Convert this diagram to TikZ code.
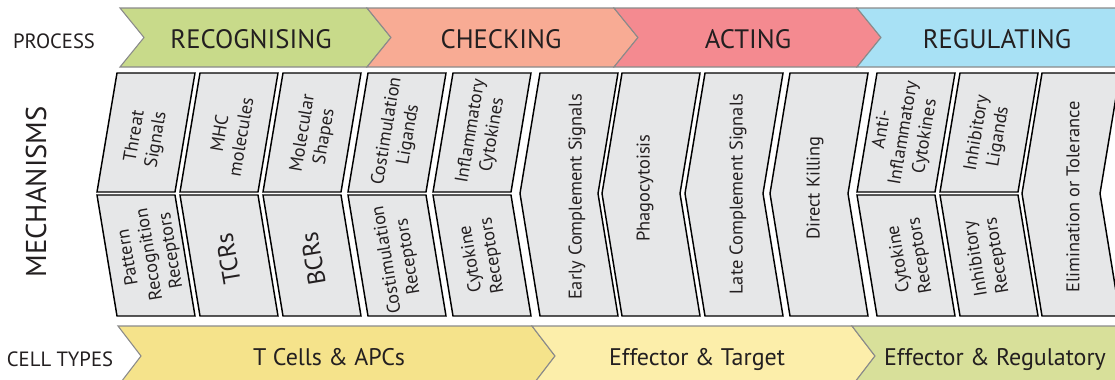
\documentclass[tikz,border=0pt]{standalone}
\usepackage{fontspec}
\setmainfont{PT Sans}

\definecolor{recoggreen}{HTML}{C8DA8A}
\definecolor{checksalmon}{HTML}{F8AB94}
\definecolor{actred}{HTML}{F48A90}
\definecolor{regulblue}{HTML}{A8E1F5}
\definecolor{tcellyellow}{HTML}{F5E38B}
\definecolor{effyellow}{HTML}{FCEEAA}
\definecolor{effgreen}{HTML}{D8E09A}
\definecolor{mechgray}{HTML}{E6E7E8}
\definecolor{edgegray}{HTML}{8A8A8A}
\definecolor{inkgray}{HTML}{231F20}

\tikzset{every picture/.style={line width=0.75pt}}
\tikzset{
	bandbox/.style={draw=edgegray, line width=0.8},
	mechbox/.style={draw=black, fill=mechgray, line width=1.1},
	rowlabel/.style={text=inkgray, anchor=base, font=\fontsize{15.5}{18}\selectfont},
	proclabel/.style={text=inkgray, anchor=base, font=\fontsize{20}{24}\selectfont},
	celllabel/.style={text=inkgray, anchor=base, font=\fontsize{18}{22}\selectfont},
	mechtext/.style={text=inkgray, align=center, inner sep=1pt, font=\fontsize{13.8}{16.3}\selectfont},
	mechbig/.style={text=inkgray, align=center, font=\fontsize{18.5}{22}\selectfont},
	uptext/.style={mechtext, rotate=80.5},
	lowtext/.style={mechtext, rotate=99.5},
	fulltext/.style={mechtext, rotate=90}
}

\begin{document}
\begin{tikzpicture}[x=0.75pt,y=0.75pt,yscale=-1,xscale=1]
	\clip (0,0) rectangle (1115,379); %diagram is 1115 x 379

	%Shape: Chevron [process: recognising]
	\draw [bandbox, fill=recoggreen] (120,8) -- (367,8) -- (391,37.5) -- (367,67) -- (120,67) -- (144,37.5) -- cycle ;
	%Shape: Chevron [process: checking]
	\draw [bandbox, fill=checksalmon] (367,8) -- (614,8) -- (638,37.5) -- (614,67) -- (367,67) -- (391,37.5) -- cycle ;
	%Shape: Chevron [process: acting]
	\draw [bandbox, fill=actred] (614,8) -- (857,8) -- (881,37.5) -- (857,67) -- (614,67) -- (638,37.5) -- cycle ;
	%Shape: Chevron [process: regulating]
	\draw [bandbox, fill=regulblue] (857,8) -- (1125,8) -- (1125,67) -- (857,67) -- (881,37.5) -- cycle ;

	%Shape: Chevron [cells: T cells]
	\draw [bandbox, fill=tcellyellow] (118,326) -- (532,326) -- (555,356) -- (532,386) -- (118,386) -- (141,356) -- cycle ;
	%Shape: Chevron [cells: effector and target]
	\draw [bandbox, fill=effyellow] (532,326) -- (852,326) -- (875,356) -- (852,386) -- (532,386) -- (555,356) -- cycle ;
	%Shape: Chevron [cells: effector and regulatory]
	\draw [bandbox, fill=effgreen] (852,326) -- (1125,326) -- (1125,386) -- (852,386) -- (875,356) -- cycle ;

	%Shape: Polygon [mechanism upper 1]
	\draw [mechbox] (117,73) -- (195,73) -- (175,192) -- (97,192) -- cycle ;
	%Shape: Polygon [mechanism lower 1]
	\draw [mechbox] (97,195) -- (175,195) -- (195,316) -- (117,316) -- cycle ;
	%Shape: Polygon [mechanism upper 2]
	\draw [mechbox] (200,73) -- (278,73) -- (258,192) -- (180,192) -- cycle ;
	%Shape: Polygon [mechanism lower 2]
	\draw [mechbox] (180,195) -- (258,195) -- (278,316) -- (200,316) -- cycle ;
	%Shape: Polygon [mechanism upper 3]
	\draw [mechbox] (283,73) -- (361,73) -- (341,192) -- (263,192) -- cycle ;
	%Shape: Polygon [mechanism lower 3]
	\draw [mechbox] (263,195) -- (341,195) -- (361,316) -- (283,316) -- cycle ;
	%Shape: Polygon [mechanism upper 4]
	\draw [mechbox] (368,73) -- (446,73) -- (426,192) -- (348,192) -- cycle ;
	%Shape: Polygon [mechanism lower 4]
	\draw [mechbox] (348,195) -- (426,195) -- (446,316) -- (368,316) -- cycle ;
	%Shape: Polygon [mechanism upper 5]
	\draw [mechbox] (453,73) -- (531,73) -- (511,192) -- (433,192) -- cycle ;
	%Shape: Polygon [mechanism lower 5]
	\draw [mechbox] (433,195) -- (511,195) -- (531,316) -- (453,316) -- cycle ;
	%Shape: Chevron [mechanism full 6]
	\draw [mechbox] (540,73) -- (618,73) -- (598,193.5) -- (618,316) -- (540,316) -- (520,193.5) -- cycle ;
	%Shape: Chevron [mechanism full 7]
	\draw [mechbox] (622,73) -- (700,73) -- (680,193.5) -- (700,316) -- (622,316) -- (602,193.5) -- cycle ;
	%Shape: Chevron [mechanism full 8]
	\draw [mechbox] (705,73) -- (783,73) -- (763,193.5) -- (783,316) -- (705,316) -- (685,193.5) -- cycle ;
	%Shape: Chevron [mechanism full 9]
	\draw [mechbox] (790,73) -- (868,73) -- (848,193.5) -- (868,316) -- (790,316) -- (770,193.5) -- cycle ;
	%Shape: Polygon [mechanism upper 10]
	\draw [mechbox] (877,73) -- (955,73) -- (935,192) -- (857,192) -- cycle ;
	%Shape: Polygon [mechanism lower 10]
	\draw [mechbox] (857,195) -- (935,195) -- (955,316) -- (877,316) -- cycle ;
	%Shape: Polygon [mechanism upper 11]
	\draw [mechbox] (960,73) -- (1038,73) -- (1018,192) -- (940,192) -- cycle ;
	%Shape: Polygon [mechanism lower 11]
	\draw [mechbox] (940,195) -- (1018,195) -- (1038,316) -- (960,316) -- cycle ;
	%Shape: Chevron [mechanism full 12]
	\draw [mechbox] (1042,73) -- (1120,73) -- (1100,193.5) -- (1120,316) -- (1042,316) -- (1022,193.5) -- cycle ;

	% Text Node
	\draw (54,48) node [rowlabel] (process) {PROCESS};
	% Text Node
	\draw (60,366) node [rowlabel] (celltypes) {CELL TYPES};
	% Text Node
	\draw (36,192) node [text=inkgray, rotate=90, font=\fontsize{21.5}{25}\selectfont] (mechanisms) {MECHANISMS};
	% Text Node
	\draw (251,48) node [proclabel] (recognising) {RECOGNISING};
	% Text Node
	\draw (501,48) node [proclabel] (checking) {CHECKING};
	% Text Node
	\draw (748,48) node [proclabel] (acting) {ACTING};
	% Text Node
	\draw (997,48) node [proclabel] (regulating) {REGULATING};
	% Text Node
	\draw (329,365) node [celllabel] (tcells) {T Cells \& APCs};
	% Text Node
	\draw (697,365) node [celllabel] (efftarget) {Effector \& Target};
	% Text Node
	\draw (995,365) node [celllabel] (effreg) {Effector \& Regulatory};

	% Text Node
	\draw (146,138) node [uptext] (threat) {Threat\\Signals};
	% Text Node
	\draw (150,254) node [lowtext] (prr) {Pattern\\Recognition\\Receptors};
	% Text Node
	\draw (230,135) node [uptext] (mhc) {MHC\\molecules};
	% Text Node
	\draw (228,259) node [mechbig, rotate=99.5] (tcrs) {TCRs};
	% Text Node
	\draw (314,135) node [uptext] (shapes) {Molecular\\Shapes};
	% Text Node
	\draw (313,259) node [mechbig, rotate=99.5] (bcrs) {BCRs};
	% Text Node
	\draw (398,133) node [uptext] (costimlig) {Costimulation\\Ligands};
	% Text Node
	\draw (398,258) node [lowtext] (costimrec) {Costimulation\\Receptors};
	% Text Node
	\draw (482,133) node [uptext] (inflam) {Inflammatory\\Cytokines};
	% Text Node
	\draw (482,257) node [lowtext] (cytorec) {Cytokine\\Receptors};
	% Text Node
	\draw (577,197) node [fulltext] (earlycomp) {Early Complement Signals};
	% Text Node
	\draw (645,188) node [fulltext] (phago) {Phagocytoisis};
	% Text Node
	\draw (738,194) node [fulltext] (latecomp) {Late Complement Signals};
	% Text Node
	\draw (815,188) node [fulltext] (killing) {Direct Killing};
	% Text Node
	\draw (904,133) node [uptext] (antiinflam) {Anti-\\Inflammatory\\Cytokines};
	% Text Node
	\draw (910,257) node [lowtext] (cytorectwo) {Cytokine\\Receptors};
	% Text Node
	\draw (988,135) node [uptext] (inhiblig) {Inhibitory\\Ligands};
	% Text Node
	\draw (987,257) node [lowtext] (inhibrec) {Inhibitory\\Receptors};
	% Text Node
	\draw (1073,197) node [fulltext] (tolerance) {Elimination or Tolerance};

\end{tikzpicture}
\end{document}
